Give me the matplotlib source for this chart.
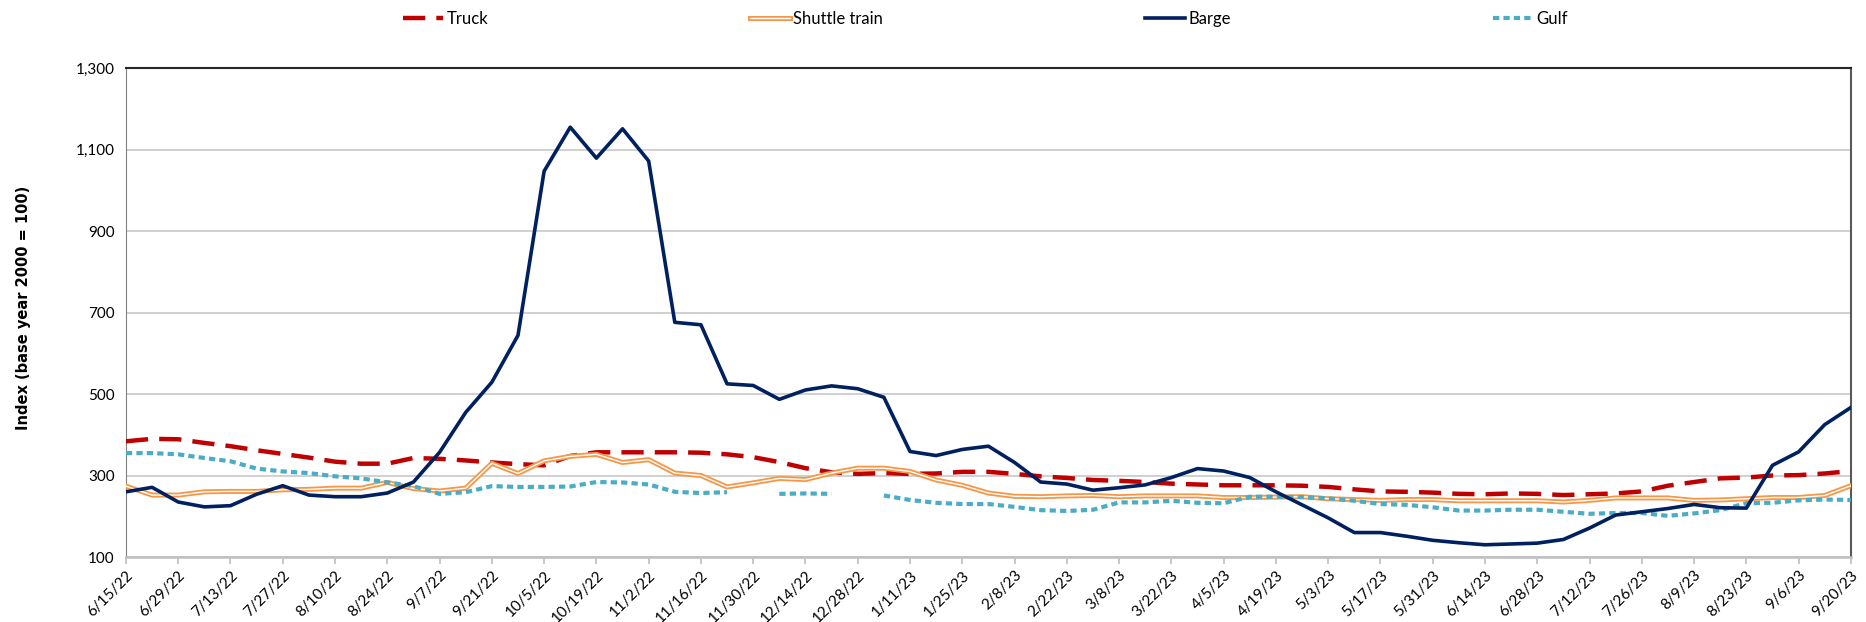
import matplotlib.pyplot as plt
import matplotlib.patheffects as pe
import matplotlib.ticker as mticker
import numpy as np
import pandas as pd

plt.rcParams['font.family'] = ['Lato', 'DejaVu Sans']

# weekly index values, 6/15/22 .. 9/20/23
dates = pd.date_range('2022-06-15', periods=67, freq='7D')

truck = [384, 390, 389, 380, 372, 362, 353, 344, 334, 329, 329, 343, 341, 337, 332, 328, 325,
         348, 357, 357, 357, 357, 356, 352, 345, 333, 318, 308, 304, 306, 304, 305, 309, 309,
         304, 298, 294, 289, 287, 284, 280, 278, 276, 276, 276, 275, 272, 266, 261, 260, 258,
         255, 254, 256, 255, 252, 254, 256, 261, 275, 284, 293, 295, 300, 301, 305, 311]

shuttle = [274, 252, 252, 260, 261, 261, 265, 266, 269, 269, 283, 268, 262, 269, 330, 305, 336,
           347, 352, 332, 339, 306, 300, 272, 282, 293, 290, 306, 318, 318, 310, 289, 276, 257,
           249, 248, 250, 251, 248, 250, 250, 250, 246, 246, 247, 248, 243, 241, 239, 241, 241,
           238, 238, 238, 238, 235, 239, 245, 245, 245, 239, 240, 243, 246, 246, 251, 275]

barge = [260, 271, 235, 223, 226, 254, 275, 252, 248, 248, 257, 284, 357, 455, 529, 644, 1047,
         1155, 1079, 1151, 1072, 676, 670, 525, 521, 487, 510, 520, 513, 492, 359, 349, 364, 372,
         332, 284, 279, 264, 270, 277, 295, 317, 311, 295, 260, 228, 196, 160, 160, 151, 141,
         135, 130, 132, 134, 143, 171, 203, 211, 219, 229, 221, 220, 325, 358, 425, 467]

gulf = [355, 355, 352, 343, 335, 317, 310, 306, 298, 293, 283, 274, 255, 259, 274, 272, 272,
        273, 284, 283, 278, 260, 257, 259, np.nan, 255, 256, 255, np.nan, 251, 240, 233, 230, 230,
        223, 215, 213, 216, 234, 234, 238, 233, 232, 248, 248, 247, 244, 238, 230, 228, 222,
        214, 214, 216, 216, 211, 206, 208, 208, 201, 207, 215, 232, 233, 239, 241, 240]

fig = plt.figure(figsize=(18.66, 6.22), dpi=100)
ax = fig.add_axes([0.0675, 0.1045, 0.9244, 0.786])

ax.plot(dates, truck, color='#C00000', lw=3.2, dashes=(5, 2.5), label='Truck', zorder=3)
ax.plot(dates, shuttle, color='white', lw=1.0, label='Shuttle train', zorder=3,
        path_effects=[pe.Stroke(linewidth=3.6, foreground='#F79646'), pe.Normal()])
ax.plot(dates, barge, color='#002060', lw=2.6, label='Barge', zorder=4)
ax.plot(dates, gulf, color='#4BACC6', lw=3.0, dashes=(1.5, 1.0), label='Gulf', zorder=3)

ax.set_xlim(dates[0], dates[-1])
ax.set_ylim(100, 1300)
ax.set_yticks(range(100, 1301, 200))
ax.yaxis.set_major_formatter(mticker.FuncFormatter(lambda v, p: f'{int(v):,}'))
ax.grid(axis='y', color='#C8C8C8', lw=1.2)
ax.set_axisbelow(True)

ticks = dates[::2]
ax.set_xticks(ticks)
ax.set_xticklabels([f'{d.month}/{d.day}/{d.strftime("%y")}' for d in ticks],
                   rotation=45, ha='right', rotation_mode='anchor')
ax.tick_params(axis='x', length=5, color='#BFBFBF', width=1.2, labelsize=11, pad=3)
ax.tick_params(axis='y', length=0, labelsize=11, pad=8)

ax.spines['top'].set_color('#262626')
ax.spines['top'].set_linewidth(1.5)
ax.spines['right'].set_color('#595959')
ax.spines['right'].set_linewidth(1.5)
ax.spines['left'].set_color('#808080')
ax.spines['bottom'].set_color('#BFBFBF')
ax.spines['bottom'].set_linewidth(1.8)

fig.text(0.0125, 0.505, 'Index (base year 2000 = 100)', rotation=90, va='center', ha='center',
         fontsize=10.5, fontweight='bold', family='DejaVu Sans')

fig.legend(loc='center', bbox_to_anchor=(0.208, 0.945, 0.64, 0.05), mode='expand', ncol=4,
           frameon=False, fontsize=12, handlelength=2.4, handletextpad=0.2)

fig.savefig('out.png', dpi=100)
